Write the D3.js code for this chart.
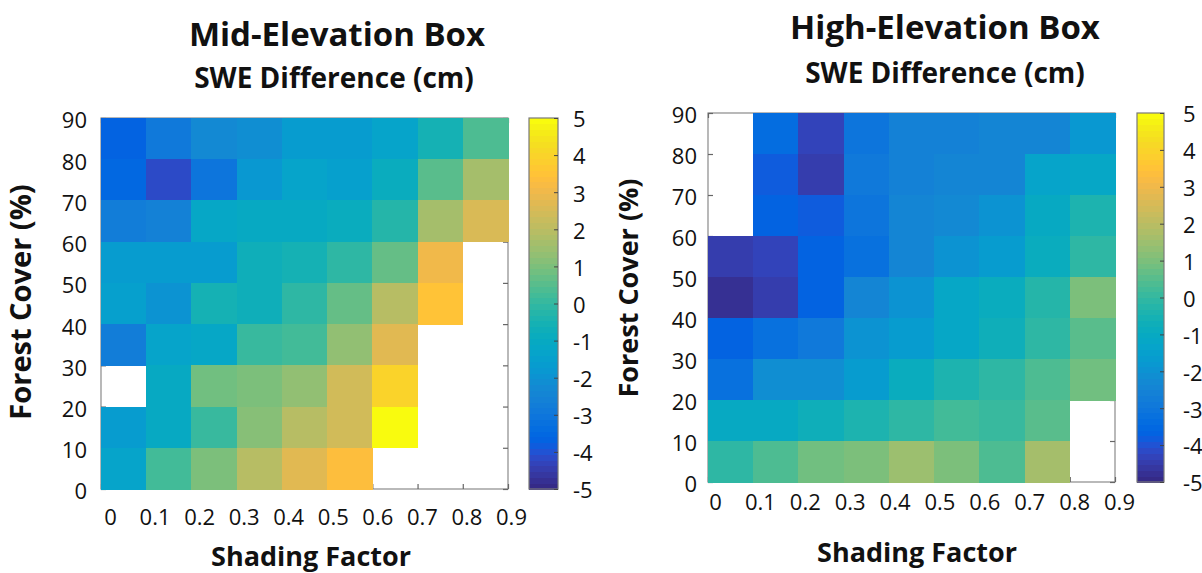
<!DOCTYPE html>
<html>
<head>
<meta charset="utf-8">
<script src="https://cdn.jsdelivr.net/npm/d3@7"></script>
<style>
  body { margin: 0; background: #fff; }
  svg { display: block; }
  text { font-family: "Open Sans", sans-serif; fill: #111; }
</style>
</head>
<body>
<div id="chart"></div>
<script>
// Data (SWE difference in cm)
// cells: columns = shading factor bin start, rows = forest cover bin start (top row first)
const shadingFactors = [0, 0.1, 0.2, 0.3, 0.4, 0.5, 0.6, 0.7, 0.8];
const forestBins = [80, 70, 60, 50, 40, 30, 20, 10, 0];

const midSwe = [
    [-3.6, -2.9, -2.3, -2.1, -1.7, -1.6, -1.4, -0.5,  0.4],
    [-3.5, -4.1, -3.0, -1.8, -1.4, -1.5, -0.9,  0.5,  1.6],
    [-2.7, -2.6, -1.2, -1.0, -1.0, -0.8, -0.2,  1.6,  2.6],
    [-1.6, -1.7, -1.7, -0.7, -0.6, -0.1,  0.7,  3.1, null],
    [-1.5, -1.9, -0.5, -0.7, -0.1,  0.7,  1.9,  3.5, null],
    [-2.7, -1.3, -1.1,  0.0,  0.3,  1.3,  2.8, null, null],
    [null, -1.0,  0.9,  1.0,  1.4,  2.4,  4.0, null, null],
    [-1.6, -1.0,  0.1,  1.2,  1.9,  2.4,  4.9, null, null],
    [-1.4,  0.2,  1.0,  1.9,  2.8,  3.3, null, null, null]
];

const highSwe = [
    [null, -3.3, -4.3, -3.0, -2.6, -2.6, -2.4, -2.4, -1.8],
    [null, -3.8, -4.5, -2.9, -2.6, -2.5, -2.4, -1.4, -1.1],
    [null, -3.6, -3.8, -3.0, -2.4, -2.3, -2.0, -1.0, -0.4],
    [-4.4, -4.3, -3.7, -3.2, -2.4, -1.9, -1.6, -0.9, -0.1],
    [-4.7, -4.5, -3.7, -2.5, -2.0, -1.2, -0.8, -0.2,  1.0],
    [-3.7, -3.2, -2.9, -2.0, -1.6, -1.1, -0.7, -0.1,  0.6],
    [-3.2, -2.1, -2.1, -1.6, -0.8, -0.4, -0.1,  0.4,  0.8],
    [-1.0, -1.0, -0.7, -0.4, -0.1,  0.2,  0.0,  0.5, null],
    [-0.1,  0.4,  0.8,  1.0,  1.5,  1.0,  0.4,  1.6, null]
];

const xTicks = [0, 0.1, 0.2, 0.3, 0.4, 0.5, 0.6, 0.7, 0.8, 0.9];
const xTickLabels = ["0", "0.1", "0.2", "0.3", "0.4", "0.5", "0.6", "0.7", "0.8", "0.9"];
const yTicks = [0, 10, 20, 30, 40, 50, 60, 70, 80, 90];
const cbarTicks = [-5, -4, -3, -2, -1, 0, 1, 2, 3, 4, 5];

// MATLAB parula colormap (64 levels)
const parula = [
    [0.2081,0.1663,0.5292],[0.2116,0.1898,0.5777],[0.2123,0.2138,0.6270],[0.2081,0.2386,0.6771],
    [0.1959,0.2645,0.7279],[0.1707,0.2919,0.7792],[0.1253,0.3242,0.8303],[0.0591,0.3598,0.8683],
    [0.0117,0.3875,0.8820],[0.0060,0.4086,0.8828],[0.0165,0.4266,0.8786],[0.0329,0.4430,0.8720],
    [0.0498,0.4586,0.8641],[0.0629,0.4737,0.8554],[0.0723,0.4887,0.8467],[0.0779,0.5040,0.8384],
    [0.0793,0.5200,0.8312],[0.0749,0.5375,0.8263],[0.0641,0.5570,0.8240],[0.0488,0.5772,0.8228],
    [0.0343,0.5966,0.8199],[0.0265,0.6137,0.8135],[0.0239,0.6287,0.8038],[0.0231,0.6418,0.7913],
    [0.0228,0.6535,0.7768],[0.0267,0.6642,0.7607],[0.0384,0.6743,0.7436],[0.0590,0.6838,0.7254],
    [0.0843,0.6928,0.7062],[0.1133,0.7015,0.6859],[0.1453,0.7098,0.6646],[0.1801,0.7177,0.6424],
    [0.2178,0.7250,0.6193],[0.2586,0.7317,0.5954],[0.3022,0.7376,0.5712],[0.3482,0.7424,0.5473],
    [0.3953,0.7459,0.5244],[0.4420,0.7481,0.5033],[0.4871,0.7491,0.4840],[0.5300,0.7491,0.4661],
    [0.5709,0.7485,0.4494],[0.6099,0.7473,0.4337],[0.6473,0.7456,0.4188],[0.6834,0.7435,0.4044],
    [0.7184,0.7411,0.3905],[0.7525,0.7384,0.3768],[0.7858,0.7356,0.3633],[0.8185,0.7327,0.3498],
    [0.8507,0.7299,0.3360],[0.8824,0.7274,0.3217],[0.9139,0.7258,0.3063],[0.9450,0.7261,0.2886],
    [0.9739,0.7314,0.2666],[0.9938,0.7455,0.2403],[0.9990,0.7653,0.2164],[0.9955,0.7861,0.1967],
    [0.9880,0.8066,0.1794],[0.9789,0.8271,0.1633],[0.9697,0.8481,0.1475],[0.9626,0.8705,0.1309],
    [0.9589,0.8949,0.1132],[0.9598,0.9218,0.0948],[0.9661,0.9514,0.0755],[0.9763,0.9831,0.0538]
].map(c => d3.rgb(c[0] * 255, c[1] * 255, c[2] * 255).formatHex());

const color = d3.scaleQuantize().domain([-5, 5]).range(parula);

const svg = d3.select("#chart").append("svg")
    .attr("width", 1202)
    .attr("height", 573);

/**
 * Draws one heatmap panel with its colorbar
 */
function drawPanel(p, values) {
    const g = svg.append("g");

    const x = d3.scaleLinear().domain([0, 0.9]).range([p.left, p.right]);
    const y = d3.scaleLinear().domain([0, 90]).range([p.bottom, p.top]);

    // axes box + inward ticks (hidden under the cells, visible on NaN cells)
    const box = g.append("g").attr("class", "box");
    box.append("rect")
        .attr("x", p.left).attr("y", p.top)
        .attr("width", p.right - p.left).attr("height", p.bottom - p.top)
        .attr("fill", "#fff").attr("stroke", "#8a8a8a").attr("stroke-width", 1.2);
    const tickAxes = [
        [d3.axisBottom(x).tickValues(xTicks), `translate(0,${p.bottom})`],
        [d3.axisTop(x).tickValues(xTicks), `translate(0,${p.top})`],
        [d3.axisLeft(y).tickValues(yTicks), `translate(${p.left},0)`],
        [d3.axisRight(y).tickValues(yTicks), `translate(${p.right},0)`]
    ];
    tickAxes.forEach(function (a) {
        const ag = box.append("g").attr("transform", a[1])
            .call(a[0].tickSize(-5).tickFormat(""));
        ag.select(".domain").remove();
        ag.selectAll("line").attr("stroke", "#666").attr("stroke-width", 1.2);
    });

    // cells
    const cells = [];
    forestBins.forEach(function (f, r) {
        shadingFactors.forEach(function (s, c) {
            if (values[r][c] !== null) cells.push({ s: s, f: f, v: values[r][c] });
        });
    });
    g.append("g").selectAll("rect")
        .data(cells)
        .enter().append("rect")
        .attr("x", d => x(d.s))
        .attr("y", d => y(d.f + 10))
        .attr("width", d => x(d.s + 0.1) - x(d.s) + 0.5)
        .attr("height", d => y(d.f) - y(d.f + 10) + 0.5)
        .attr("fill", d => color(d.v))
        .attr("shape-rendering", "crispEdges");

    // tick labels
    const xl = d3.scaleLinear().domain([0, 0.9]).range(p.xLabRange);
    const xAxis = g.append("g").attr("transform", `translate(0,${p.bottom})`)
        .call(d3.axisBottom(xl).tickValues(xTicks).tickSize(0).tickPadding(p.xLabPad)
            .tickFormat((d, i) => xTickLabels[i]));
    const yAxis = g.append("g").attr("transform", `translate(${p.left},0)`)
        .call(d3.axisLeft(y).tickValues(yTicks).tickSize(0).tickPadding(p.yLabPad));
    [xAxis, yAxis].forEach(function (a) {
        a.select(".domain").remove();
        a.selectAll("text").style("font-size", "22px").attr("fill", "#111")
            .style("font-family", "'Open Sans', sans-serif");
    });
    yAxis.selectAll("text").attr("dy", "0.45em");

    // colorbar
    const cb = d3.scaleLinear().domain([-5, 5]).range([p.bottom, p.top]);
    const step = 10 / parula.length;
    g.append("g").selectAll("rect")
        .data(parula)
        .enter().append("rect")
        .attr("x", p.cbX)
        .attr("y", (d, i) => cb(-5 + (i + 1) * step))
        .attr("width", p.cbW)
        .attr("height", (d, i) => cb(-5 + i * step) - cb(-5 + (i + 1) * step) + 0.6)
        .attr("fill", d => d)
        .attr("shape-rendering", "crispEdges");
    g.append("rect")
        .attr("x", p.cbX).attr("y", p.top)
        .attr("width", p.cbW).attr("height", p.bottom - p.top)
        .attr("fill", "none").attr("stroke", "#7a7a7a").attr("stroke-width", 1.2);
    const cAxis = g.append("g").attr("transform", `translate(${p.cbX + p.cbW},0)`)
        .call(d3.axisRight(cb).tickValues(cbarTicks).tickSize(-4).tickPadding(p.cbPad)
            .tickFormat(d => d < 0 ? "-" + Math.abs(d) : String(d)));
    cAxis.select(".domain").remove();
    cAxis.selectAll("line").attr("stroke", "#444");
    cAxis.selectAll("text").style("font-size", "22px").attr("fill", "#111")
        .style("font-family", "'Open Sans', sans-serif").attr("dy", "0.4em");

    // titles
    g.append("text")
        .attr("x", p.titleX).attr("y", p.titleY)
        .attr("text-anchor", "middle")
        .style("font-size", "33px").style("font-weight", "bold")
        .text(p.title);
    g.append("text")
        .attr("x", p.subX).attr("y", p.subY)
        .attr("text-anchor", "middle")
        .style("font-size", "28px").style("font-weight", "bold")
        .text("SWE Difference (cm)");
    g.append("text")
        .attr("x", p.xTitleX).attr("y", p.xTitleY)
        .attr("text-anchor", "middle")
        .style("font-size", p.xTitleSize + "px").style("font-weight", "bold")
        .text("Shading Factor");
    g.append("text")
        .attr("transform", `translate(${p.yTitleX},${p.yTitleY}) rotate(-90)`)
        .attr("text-anchor", "middle")
        .style("font-size", p.yTitleSize + "px").style("font-weight", "bold")
        .text("Forest Cover (%)");
}

drawPanel({
    title: "Mid-Elevation Box",
    left: 101, right: 508, top: 118, bottom: 489,
    cbX: 529, cbW: 29, cbPad: 15,
    titleX: 337, titleY: 46, subX: 334, subY: 88,
    xLabRange: [110, 511], xLabPad: 20, yLabPad: 14,
    xTitleX: 311, xTitleY: 566, xTitleSize: 27,
    yTitleX: 31, yTitleY: 302, yTitleSize: 29
}, midSwe);

drawPanel({
    title: "High-Elevation Box",
    left: 708, right: 1115, top: 113, bottom: 482,
    cbX: 1137, cbW: 27, cbPad: 19,
    titleX: 945, titleY: 39, subX: 945, subY: 83,
    xLabRange: [715, 1119], xLabPad: 12, yLabPad: 11,
    xTitleX: 917, xTitleY: 562, xTitleSize: 27,
    yTitleX: 638, yTitleY: 288, yTitleSize: 27
}, highSwe);
</script>
</body>
</html>
